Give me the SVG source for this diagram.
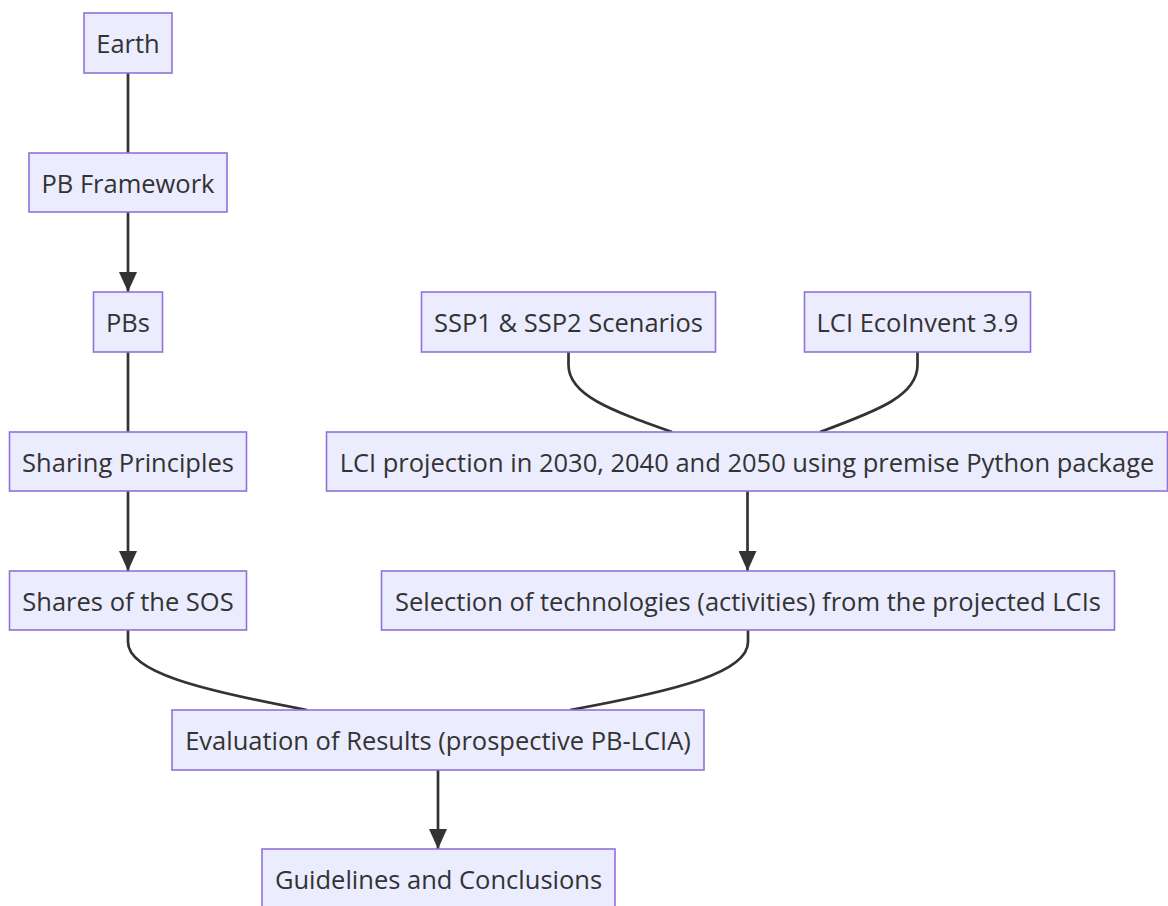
<svg xmlns="http://www.w3.org/2000/svg" width="1168" height="906" viewBox="0 0 1168 906">
<style>
.node rect{fill:#ECECFF;stroke:#9370DB;stroke-width:1.6;}
.node text{font-family:"Open Sans","Noto Sans",sans-serif;font-size:25.5px;fill:#333333;text-anchor:middle;dominant-baseline:central;}
.edge{fill:none;stroke:#333333;stroke-width:2.7;}
</style>
<defs>
<marker id="arrow" viewBox="0 0 20 18" refX="20" refY="9" markerWidth="20" markerHeight="18" markerUnits="userSpaceOnUse" orient="auto">
<path d="M0,0 L20,9 L0,18 z" fill="#333333"/>
</marker>
</defs>
<rect width="1168" height="906" fill="#ffffff"/>
<g id="connectors">
<path class="edge" d="M128,73 L128,153"/>
<path class="edge" d="M128,212 L128,292" marker-end="url(#arrow)"/>
<path class="edge" d="M128,352 L128,432"/>
<path class="edge" d="M128,491 L128,571" marker-end="url(#arrow)"/>
<path class="edge" d="M568.5,352 L568.5,365 C568.5,395 610,410 672,432"/>
<path class="edge" d="M917.5,352 L917.5,365 C917.5,395 880,410 820,432"/>
<path class="edge" d="M747.5,491 L747.5,571" marker-end="url(#arrow)"/>
<path class="edge" d="M128,630 L128,642 C128,672 200,690 307,710"/>
<path class="edge" d="M748,630 L748,642 C748,672 680,690 570,710"/>
<path class="edge" d="M438,770 L438,849" marker-end="url(#arrow)"/>
</g>
<g id="earth" class="node"><rect x="84" y="13" width="88" height="60"/><text x="128" y="43">Earth</text></g>
<g id="pbframework" class="node"><rect x="29" y="153" width="198" height="59"/><text x="128" y="182.5">PB Framework</text></g>
<g id="pbs" class="node"><rect x="93.5" y="292" width="69" height="60"/><text x="128" y="322">PBs</text></g>
<g id="sharing" class="node"><rect x="9.5" y="432" width="237" height="59"/><text x="128" y="461.5">Sharing Principles</text></g>
<g id="shares" class="node"><rect x="9.5" y="571" width="237" height="59"/><text x="128" y="600.5">Shares of the SOS</text></g>
<g id="ssp" class="node"><rect x="421.5" y="292" width="294" height="60"/><text x="568.5" y="322">SSP1 &amp; SSP2 Scenarios</text></g>
<g id="ecoinvent" class="node"><rect x="804.5" y="292" width="226" height="60"/><text x="917.5" y="322">LCI EcoInvent 3.9</text></g>
<g id="projection" class="node"><rect x="326.5" y="432" width="841" height="59"/><text x="747" y="461.5">LCI projection in 2030, 2040 and 2050 using premise Python package</text></g>
<g id="selection" class="node"><rect x="381.5" y="571" width="733" height="59"/><text x="748" y="600.5">Selection of technologies (activities) from the projected LCIs</text></g>
<g id="evaluation" class="node"><rect x="172" y="710" width="532" height="60"/><text x="438" y="740">Evaluation of Results (prospective PB-LCIA)</text></g>
<g id="guidelines" class="node"><rect x="262" y="849" width="353" height="60"/><text x="438.5" y="879">Guidelines and Conclusions</text></g>
</svg>
